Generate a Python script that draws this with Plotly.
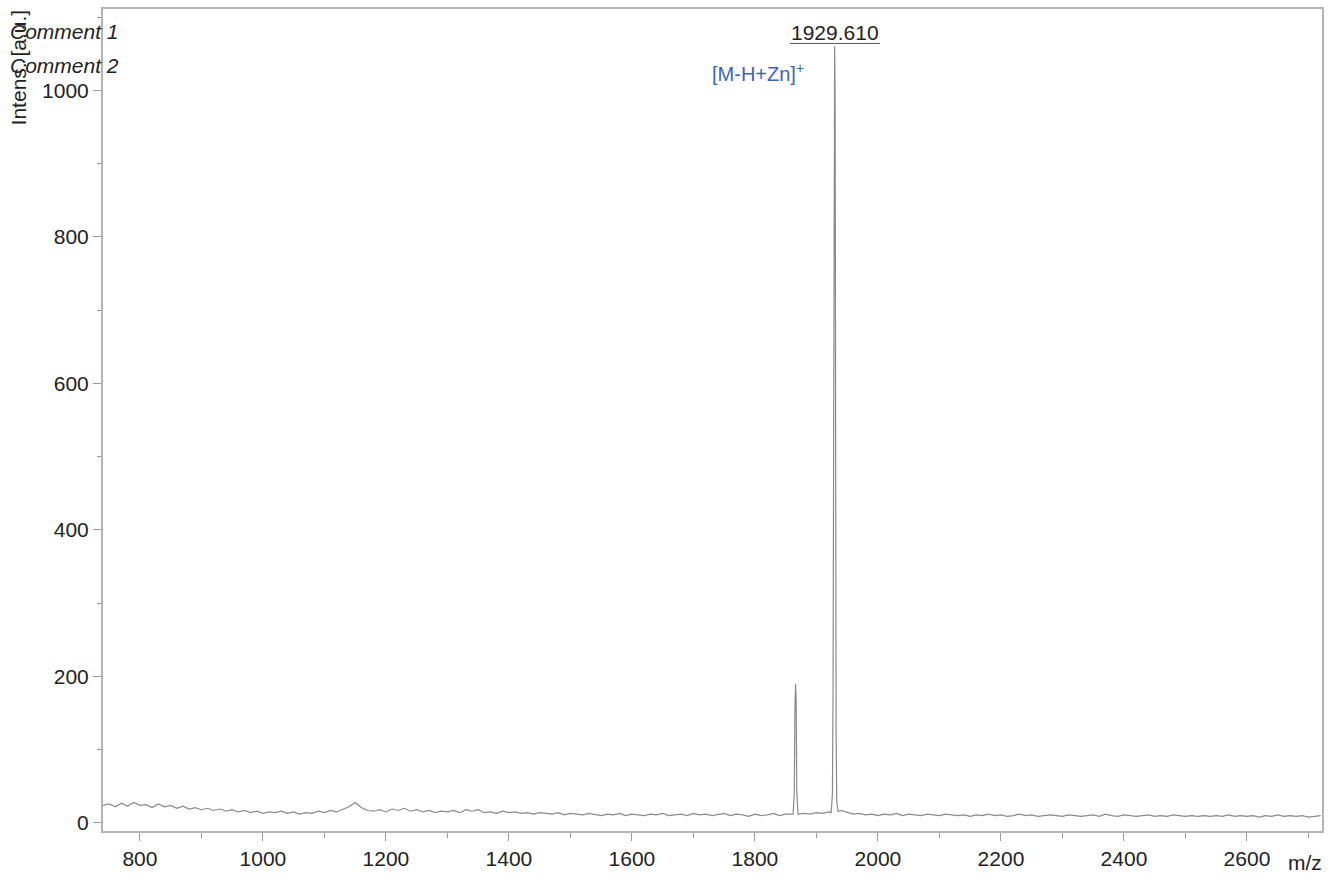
import plotly.graph_objects as go

# Baseline intensities on a 10 m/z grid starting at m/z 740
baseline_start = 740
baseline_step = 10
baseline_intens = (
    [24, 26, 22, 27, 23, 28, 24, 25, 21, 26, 22, 24, 20, 23, 19, 21, 18, 20, 17, 19]      # 740-930
    + [16, 18, 15, 17, 14, 16, 13, 15, 14, 16, 13, 15, 12, 14, 13, 16, 14, 17, 15, 18]  # 940-1130
    + [22, 28, 21, 17, 16, 18, 15, 19, 17, 20, 16, 18, 15, 17, 14, 16, 15, 17, 14, 18]  # 1140-1330
    + [16, 18, 14, 15, 13, 16, 14, 15, 13, 14, 12, 14, 13, 12, 14, 11, 13, 12, 11, 13]  # 1340-1530
    + [12, 10, 12, 11, 13, 10, 12, 11, 10, 12, 11, 13, 10, 11, 12, 10, 13, 11, 12, 10]  # 1540-1730
    + [11, 13, 10, 12, 11, 9, 12, 10, 11, 13, 10, 12, 12, 11, 13, 12, 14, 13, 15, 16]   # 1740-1930
    + [17, 14, 12, 13, 11, 12, 10, 12, 11, 13, 10, 12, 11, 10, 12, 11, 10, 12, 11, 10]  # 1940-2130
    + [11, 9, 11, 10, 12, 10, 11, 9, 10, 12, 10, 11, 9, 10, 11, 10, 9, 11, 10, 9]       # 2140-2330
    + [10, 11, 9, 12, 10, 9, 11, 10, 9, 10, 11, 9, 10, 9, 11, 10, 9, 10, 9, 10]         # 2340-2530
    + [9, 10, 9, 11, 9, 10, 9, 10, 8, 10, 9, 11, 9, 10, 9, 10, 8, 9, 10]                # 2540-2720
)

# Peak profiles
peak1_mz = [1862, 1864, 1865, 1866, 1867, 1868, 1870]
peak1_intens = [12, 40, 150, 190, 170, 45, 12]
peak2_mz = [1924, 1926, 1927, 1928, 1928.8, 1929.61, 1930.4, 1931.2, 1932, 1933, 1935]
peak2_intens = [14, 40, 180, 420, 900, 1060, 980, 420, 120, 30, 16]

label_mz = 1929.61
label_text = "1929.610"
ion_text = "[M-H+Zn]<sup>+</sup>"

# Merge baseline and peaks into one spectrum trace
peak_centers = [1866, 1929.61]
points = []
for i, v in enumerate(baseline_intens):
    mz = baseline_start + baseline_step * i
    if all(abs(mz - c) > 6 for c in peak_centers):
        points.append((mz, v))
points += list(zip(peak1_mz, peak1_intens))
points += list(zip(peak2_mz, peak2_intens))
points.sort()
mz_all = [p[0] for p in points]
int_all = [p[1] for p in points]

text_color = "#222222"
font_family = "Liberation Sans, Arial, sans-serif"

fig = go.Figure()
fig.add_trace(go.Scatter(
    x=mz_all, y=int_all, mode="lines",
    line=dict(color="#8a8a8a", width=1.2),
    showlegend=False, hoverinfo="x+y",
))

axis_common = dict(
    showgrid=False, zeroline=False,
    showline=True, linecolor="#b4b4b4", linewidth=2, mirror=True,
    ticks="outside", ticklen=8, tickcolor="#999999", tickwidth=1,
    tickfont=dict(family=font_family, size=21, color=text_color),
)

fig.update_layout(
    width=1338, height=879,
    margin=dict(l=103, r=16, t=7, b=48),
    paper_bgcolor="white", plot_bgcolor="white",
    xaxis=dict(range=[740, 2722], tick0=0, dtick=200,
               minor=dict(dtick=100, ticks="outside", ticklen=5, tickcolor="#999999"),
               **axis_common),
    yaxis=dict(range=[-11, 1111], tick0=0, dtick=200,
               minor=dict(dtick=100, ticks="outside", ticklen=4, tickcolor="#999999"),
               **axis_common),
)

# Peak label with its underline
fig.add_annotation(x=label_mz, y=1079, xref="x", yref="y", text=label_text,
                   showarrow=False, font=dict(family=font_family, size=21, color=text_color))
fig.add_shape(type="line", xref="x", yref="y", x0=1857, x1=2003, y0=1064, y1=1064,
              line=dict(color="#555555", width=1))
fig.add_annotation(x=1805, y=1025, xref="x", yref="y", text=ion_text,
                   showarrow=False, font=dict(family=font_family, size=20, color="#3d63b8"))

# Comments and axis titles
fig.add_annotation(x=-0.0779, y=0.973, xref="paper", yref="paper", text="<i>Comment 1</i>",
                   xanchor="left", yanchor="middle", showarrow=False,
                   font=dict(family=font_family, size=21, color=text_color))
fig.add_annotation(x=-0.0779, y=0.931, xref="paper", yref="paper", text="<i>Comment 2</i>",
                   xanchor="left", yanchor="middle", showarrow=False,
                   font=dict(family=font_family, size=21, color=text_color))
fig.add_annotation(x=-0.0697, y=0.929, xref="paper", yref="paper", text="Intens. [a.u.]",
                   textangle=-90, xanchor="center", yanchor="middle", showarrow=False,
                   font=dict(family=font_family, size=21, color=text_color))
fig.add_annotation(x=0.986, y=-0.0388, xref="paper", yref="paper", text="m/z",
                   xanchor="center", yanchor="middle", showarrow=False,
                   font=dict(family=font_family, size=21, color=text_color))

fig.write_html("out.html")
